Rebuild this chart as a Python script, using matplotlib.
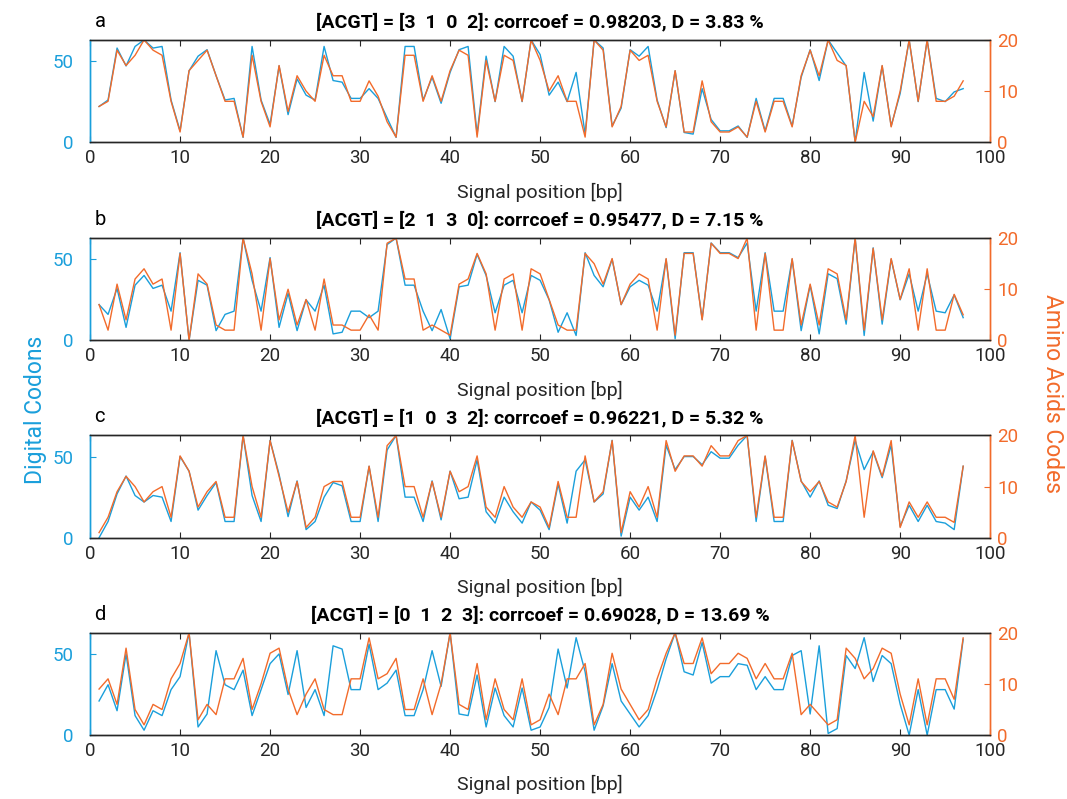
import matplotlib
matplotlib.use('Agg')
import matplotlib.pyplot as plt

plt.rcParams['font.family'] = ['Roboto', 'DejaVu Sans']

positions = list(range(1, 98))

# panel a
codons_a = [22, 26, 58, 47, 59, 63, 58, 59, 26, 7, 44, 53, 57, 41, 26, 27, 3, 59, 26, 11,
            47, 17, 39, 29, 26, 59, 38, 37, 27, 27, 33, 27, 15, 3, 59, 59, 26, 40, 24, 43,
            57, 59, 5, 53, 25, 59, 53, 25, 63, 54, 29, 37, 25, 43, 5, 63, 58, 10, 21, 57,
            53, 59, 26, 9, 44, 6, 5, 33, 14, 7, 7, 10, 3, 27, 7, 27, 27, 10, 40, 57,
            38, 63, 55, 47, 0, 43, 13, 47, 10, 30, 63, 25, 63, 27, 25, 31, 33]
amino_a = [7, 8, 18, 15, 17, 20, 18, 17, 8, 2, 14, 16, 18, 13, 8, 8, 1, 17, 8, 3,
           15, 6, 13, 10, 8, 17, 13, 13, 8, 8, 12, 9, 4, 1, 17, 17, 8, 13, 8, 14,
           18, 17, 1, 16, 8, 17, 16, 8, 20, 16, 10, 13, 8, 8, 1, 20, 18, 3, 7, 18,
           16, 17, 8, 3, 14, 2, 2, 12, 4, 2, 2, 3, 1, 8, 2, 8, 8, 3, 13, 18,
           13, 20, 16, 15, 0, 8, 5, 15, 3, 10, 20, 8, 20, 8, 8, 9, 12]

# panel b
codons_b = [22, 16, 32, 8, 34, 40, 32, 34, 18, 54, 0, 37, 34, 6, 16, 18, 63, 37, 18, 51,
            8, 29, 6, 25, 18, 34, 4, 5, 18, 18, 14, 18, 59, 63, 34, 34, 18, 6, 19, 1,
            33, 34, 53, 40, 17, 34, 37, 17, 40, 37, 25, 5, 17, 3, 54, 40, 33, 50, 22, 33,
            37, 34, 18, 50, 1, 54, 54, 13, 60, 54, 54, 51, 60, 18, 54, 18, 18, 50, 6, 34,
            4, 41, 38, 10, 63, 3, 57, 10, 50, 25, 41, 18, 41, 18, 17, 28, 14]
amino_b = [7, 2, 11, 4, 12, 14, 11, 12, 2, 17, 0, 13, 11, 3, 2, 2, 20, 13, 2, 16,
           4, 10, 3, 8, 2, 12, 3, 3, 2, 2, 5, 2, 19, 20, 12, 12, 2, 3, 2, 1,
           11, 12, 17, 13, 2, 12, 13, 2, 14, 13, 8, 3, 2, 2, 17, 15, 11, 16, 7, 11,
           13, 12, 2, 16, 1, 17, 17, 4, 19, 17, 17, 16, 20, 2, 17, 2, 2, 16, 3, 11,
           3, 14, 13, 4, 20, 2, 18, 4, 16, 8, 14, 2, 14, 2, 2, 9, 5]

# panel c
codons_c = [0, 10, 27, 38, 26, 22, 26, 25, 10, 50, 41, 17, 26, 34, 10, 10, 63, 26, 10, 60,
            39, 13, 35, 5, 10, 25, 34, 32, 10, 10, 44, 10, 54, 63, 25, 25, 10, 35, 11, 41,
            24, 25, 48, 16, 9, 25, 16, 9, 22, 17, 5, 33, 9, 41, 48, 22, 27, 60, 1, 25,
            17, 25, 10, 57, 42, 50, 50, 45, 53, 49, 49, 57, 63, 10, 50, 10, 10, 60, 35, 25,
            35, 20, 18, 35, 60, 42, 53, 37, 57, 7, 20, 10, 20, 10, 9, 5, 44]
amino_c = [1, 4, 9, 12, 10, 7, 9, 10, 4, 16, 13, 6, 9, 11, 4, 4, 20, 10, 4, 19,
           12, 5, 11, 2, 4, 10, 11, 11, 4, 4, 14, 4, 18, 20, 10, 10, 4, 11, 4, 13,
           9, 10, 16, 6, 4, 10, 6, 4, 7, 6, 2, 11, 4, 4, 16, 7, 9, 19, 1, 9,
           6, 10, 4, 19, 13, 16, 16, 14, 18, 16, 16, 19, 20, 4, 16, 4, 4, 19, 11, 9,
           11, 7, 6, 11, 20, 4, 17, 12, 19, 2, 7, 4, 7, 4, 4, 3, 14]

# panel d
codons_d = [21, 31, 15, 50, 12, 3, 15, 12, 28, 36, 63, 5, 13, 52, 31, 28, 40, 12, 28, 44,
            50, 25, 52, 17, 28, 12, 55, 53, 28, 28, 56, 28, 32, 40, 12, 12, 28, 52, 30, 63,
            13, 12, 37, 5, 29, 12, 5, 29, 3, 5, 17, 53, 29, 60, 39, 3, 18, 44, 21, 13,
            5, 12, 28, 47, 63, 39, 37, 57, 32, 36, 36, 44, 43, 28, 36, 28, 28, 49, 52, 13,
            55, 1, 4, 49, 41, 60, 33, 49, 44, 19, 0, 28, 0, 28, 28, 16, 59]
amino_d = [9, 11, 6, 17, 5, 2, 6, 5, 11, 14, 20, 3, 6, 4, 11, 11, 15, 5, 10, 16,
           17, 9, 4, 8, 11, 5, 4, 4, 11, 11, 19, 11, 12, 15, 5, 5, 11, 4, 10, 20,
           6, 5, 14, 3, 11, 5, 3, 11, 2, 3, 8, 4, 11, 11, 14, 2, 6, 16, 9, 6,
           3, 5, 11, 16, 20, 14, 14, 19, 12, 14, 14, 16, 15, 11, 14, 11, 11, 16, 4, 6,
           4, 2, 3, 17, 15, 11, 13, 17, 16, 8, 2, 11, 2, 11, 11, 7, 19]

letters = ['a', 'b', 'c', 'd']
titles = ['[ACGT] = [3  1  0  2]: corrcoef = 0.98203, D = 3.83 %',
          '[ACGT] = [2  1  3  0]: corrcoef = 0.95477, D = 7.15 %',
          '[ACGT] = [1  0  3  2]: corrcoef = 0.96221, D = 5.32 %',
          '[ACGT] = [0  1  2  3]: corrcoef = 0.69028, D = 13.69 %']
codons = [codons_a, codons_b, codons_c, codons_d]
aminos = [amino_a, amino_b, amino_c, amino_d]

blue = '#1A9FDB'
orange = '#F26B2B'
dark = '#262626'

fig = plt.figure(figsize=(10.67, 7.99), dpi=100)
bottoms = [0.822, 0.574, 0.327, 0.080]
height = 0.128

for i in range(4):
    ax = fig.add_axes([0.0844, bottoms[i], 0.8436, height])
    ax.plot(positions, codons[i], color=blue, lw=1)
    ax.set_xlim(0, 100)
    ax.set_ylim(0, 63)
    ax.set_xticks(range(0, 101, 10))
    ax.set_yticks([0, 50])
    ax.tick_params(axis='x', direction='in', top=True, colors=dark, labelsize=13.5,
                   length=4, pad=5)
    ax.tick_params(axis='y', direction='in', colors=blue, labelsize=13.5, length=4, pad=12)
    ax.set_xlabel('Signal position [bp]', fontsize=14, color=dark, labelpad=11)

    ax2 = ax.twinx()
    ax2.plot(positions, aminos[i], color=orange, lw=1)
    ax2.set_ylim(0, 20)
    ax2.set_yticks([0, 10, 20])
    ax2.tick_params(axis='y', direction='in', colors=orange, labelsize=13.5, length=4, pad=5)

    for a in (ax, ax2):
        a.spines['top'].set_color(dark)
        a.spines['bottom'].set_color(dark)
        a.spines['left'].set_color(blue)
        a.spines['right'].set_color(orange)
        for s in a.spines.values():
            s.set_linewidth(1)

    ax.set_title(titles[i], fontsize=14, fontweight='bold', color='black', pad=9)
    ax.text(0.005, 1.09, letters[i], transform=ax.transAxes, fontsize=14.5, color='black',
            ha='left', va='bottom')

fig.text(0.033, 0.487, 'Digital Codons', rotation=90, color=blue, fontsize=16.5,
         ha='center', va='center')
fig.text(0.986, 0.508, 'Amino Acids Codes', rotation=-90, color=orange, fontsize=16.5,
         ha='center', va='center')

fig.savefig('out.png', dpi=100)
